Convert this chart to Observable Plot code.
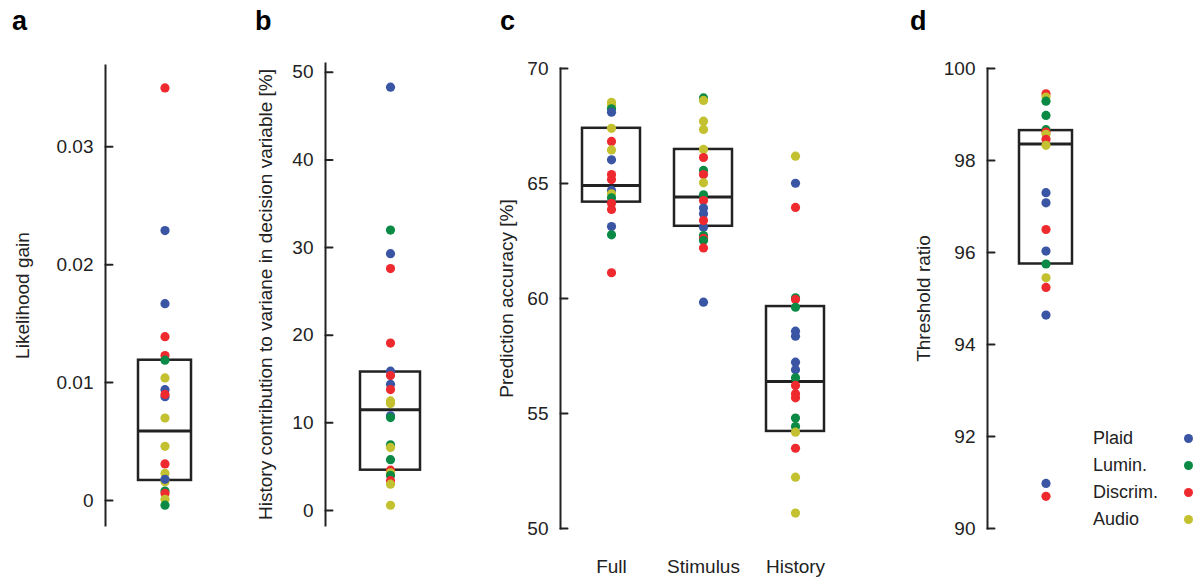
<!DOCTYPE html>
<html><head><meta charset="utf-8">
<script src="https://cdn.jsdelivr.net/npm/d3@7"></script>
<script src="https://cdn.jsdelivr.net/npm/@observablehq/plot@0.6"></script>
<style>
body{margin:0;background:#fff;font-family:"Liberation Sans",Arial,sans-serif}
#wrap{position:relative;width:1197px;height:578px}
#wrap svg{position:absolute;left:0;top:0;background:transparent}
.lt{position:absolute;font-weight:bold;font-size:27px;top:6px}
#legend{position:absolute;left:1093px;top:425px;font-size:18px;color:#222}
#legend div{height:27px;display:flex;align-items:center;width:100px;position:relative}
#legend span{position:absolute;left:91px;top:9px;width:9px;height:9px;border-radius:50%}
</style></head>
<body><div id="wrap"></div>
<script>
const groups = ["Plaid", "Lumin.", "Discrim.", "Audio"];
const colors = ["#3a55a4", "#0a8a45", "#ee2a2f", "#c3c12f"];
const code = {P: "Plaid", L: "Lumin.", D: "Discrim.", A: "Audio"};

// a: likelihood gain
const aVals = [0.035,0.0229,0.0167,0.0139,0.0123,0.0119,0.0104,0.0094,0.0088,0.009,0.007,0.0046,0.0031,0.0023,0.0016,0.0018,0.0008,0.0006,0.0001,-0.0004];
const aGrp  = ["D","P","P","D","D","L","A","P","P","D","A","A","D","A","A","P","L","D","A","L"];
const aBox = [0.0017, 0.0059, 0.0119];

// b: history contribution
const bVals = [48.3,32.0,29.3,27.6,19.1,15.9,15.4,14.4,13.8,12.5,12.2,10.8,10.6,7.5,7.2,5.8,4.6,4.3,4.0,3.4,3.0,0.6];
const bGrp  = ["P","L","P","D","D","P","D","P","D","A","A","P","L","L","A","L","D","A","L","D","A","A"];
const bBox = [4.6, 11.5, 15.8];

// c: prediction accuracy
const cCats = ["Full", "Stimulus", "History"];
const cFull = [68.53,68.39,68.25,68.1,67.4,66.83,66.46,66.03,65.39,65.17,64.7,64.55,64.38,64.14,63.87,63.13,62.77,61.12];
const cFullG = ["A","A","L","P","A","D","A","P","D","D","P","A","L","D","D","P","L","D"];
const cStim = [68.72,68.61,67.71,67.35,66.48,66.13,65.57,65.39,65.03,64.51,64.26,63.93,63.68,63.1,63.39,62.74,62.62,62.52,62.2,59.84];
const cStimG = ["L","A","A","A","A","D","L","D","A","L","D","P","P","P","D","L","D","L","D","P"];
const cHist = [66.19,65.01,63.96,60.03,59.96,59.62,58.58,58.36,57.23,56.9,56.55,56.22,55.86,55.68,54.8,54.43,54.19,53.49,52.23,50.67];
const cHistG = ["A","P","D","L","D","L","P","P","P","P","L","D","D","D","L","L","A","D","A","A"];
const cBoxLo = [64.19, 63.14, 54.22];
const cBoxMed = [64.91, 64.41, 56.39];
const cBoxHi = [67.4, 66.48, 59.65];

// d: threshold ratio
const dVals = [99.45,99.38,99.29,98.98,98.67,98.62,98.57,98.46,98.33,97.3,97.08,96.5,96.03,95.75,95.45,95.24,94.64,90.98,90.7];
const dGrp  = ["D","A","L","L","L","D","A","D","A","P","P","D","P","L","A","D","P","P","D"];
const dBox = [95.75, 98.36, 98.65];

const W = 1197, H = 578, font = "Liberation Sans, Arial, sans-serif";
const color = {domain: groups, range: colors};
const wrap = document.getElementById("wrap");
// a plain line for inward tick marks
const stub = {draw(ctx, l) { ctx.moveTo(0, 0); ctx.lineTo(0, -l); }};

function panel({left, right, top, bottom, cats, pad, outer, yDomain, ticks, fmt, label, labelOffset, pts, boxes, xAxis}) {
  const marks = [
    Plot.frame({anchor: "left", stroke: "#222", strokeWidth: 2}),
    Plot.vector(ticks, {y: d => d, frameAnchor: "left", rotate: 90, length: 7, anchor: "start", shape: stub, stroke: "#222", strokeWidth: 2}),
    Plot.axisY({ticks, tickFormat: fmt, tickSize: 0, tickPadding: 12, fontSize: 19,
      label, labelAnchor: "center", labelArrow: "none", labelOffset}),
    Plot.barY(boxes, {x: "cat", y1: "lo", y2: "hi", fill: "none", stroke: "#222", strokeWidth: 2.5}),
    Plot.tickY(boxes, {x: "cat", y: "med", stroke: "#222", strokeWidth: 3}),
    Plot.dot(pts, {x: "cat", y: "v", fill: "g", r: 4.6})
  ];
  if (xAxis) marks.push(Plot.axisX({tickSize: 0, tickPadding: 31, fontSize: 19, label: null}));
  else marks.push(Plot.axisX({ticks: [], label: null}));
  const svg = Plot.plot({
    width: W, height: H, marginLeft: left, marginRight: W - right, marginTop: top, marginBottom: H - bottom,
    style: {fontFamily: font, fontSize: "18px", color: "#222", background: "transparent"},
    x: {type: "band", domain: cats, paddingInner: pad, paddingOuter: outer},
    y: {domain: yDomain},
    color,
    marks
  });
  wrap.append(svg);
}

const mk = (vals, grp, cat) => vals.map((v, i) => ({cat, v, g: code[grp[i]]}));

panel({left: 105, right: 225, top: 65, bottom: 525, cats: ["a"], pad: 0.38, outer: 0.38,
  yDomain: [-0.00212, 0.0369], ticks: [0, 0.01, 0.02, 0.03], fmt: d => d === 0 ? "0" : d.toFixed(2),
  label: "Likelihood gain", labelOffset: 90,
  pts: mk(aVals, aGrp, "a"), boxes: [{cat: "a", lo: aBox[0], med: aBox[1], hi: aBox[2]}]});

panel({left: 325, right: 455, top: 63, bottom: 525, cats: ["b"], pad: 0.368, outer: 0.368,
  yDomain: [-1.71, 51], ticks: [0, 10, 20, 30, 40, 50], fmt: d3.format("d"),
  label: "History contribution to variane in decision variable [%]", labelOffset: 67,
  pts: mk(bVals, bGrp, "b"), boxes: [{cat: "b", lo: bBox[0], med: bBox[1], hi: bBox[2]}]});

panel({left: 560, right: 846, top: 68, bottom: 528, cats: cCats, pad: 0.366, outer: 0.226,
  yDomain: [50, 70], ticks: [50, 55, 60, 65, 70], fmt: d3.format("d"),
  label: "Prediction accuracy [%]", labelOffset: 61, xAxis: true,
  pts: [...mk(cFull, cFullG, "Full"), ...mk(cStim, cStimG, "Stimulus"), ...mk(cHist, cHistG, "History")],
  boxes: cCats.map((cat, i) => ({cat, lo: cBoxLo[i], med: cBoxMed[i], hi: cBoxHi[i]}))});

panel({left: 987, right: 1104, top: 68, bottom: 528, cats: ["d"], pad: 0.376, outer: 0.376,
  yDomain: [90, 100], ticks: [90, 92, 94, 96, 98, 100], fmt: d3.format("d"),
  label: "Threshold ratio", labelOffset: 71,
  pts: mk(dVals, dGrp, "d"), boxes: [{cat: "d", lo: dBox[0], med: dBox[1], hi: dBox[2]}]});

[["a", 12], ["b", 255], ["c", 500], ["d", 910]].forEach(([t, x]) => {
  const el = document.createElement("div");
  el.className = "lt"; el.style.left = x + "px"; el.textContent = t; wrap.append(el);
});
const lg = document.createElement("div"); lg.id = "legend";
groups.forEach((g, i) => {
  const row = document.createElement("div");
  row.innerHTML = g + `<span style="background:${colors[i]}"></span>`;
  lg.append(row);
});
wrap.append(lg);
</script></body></html>
